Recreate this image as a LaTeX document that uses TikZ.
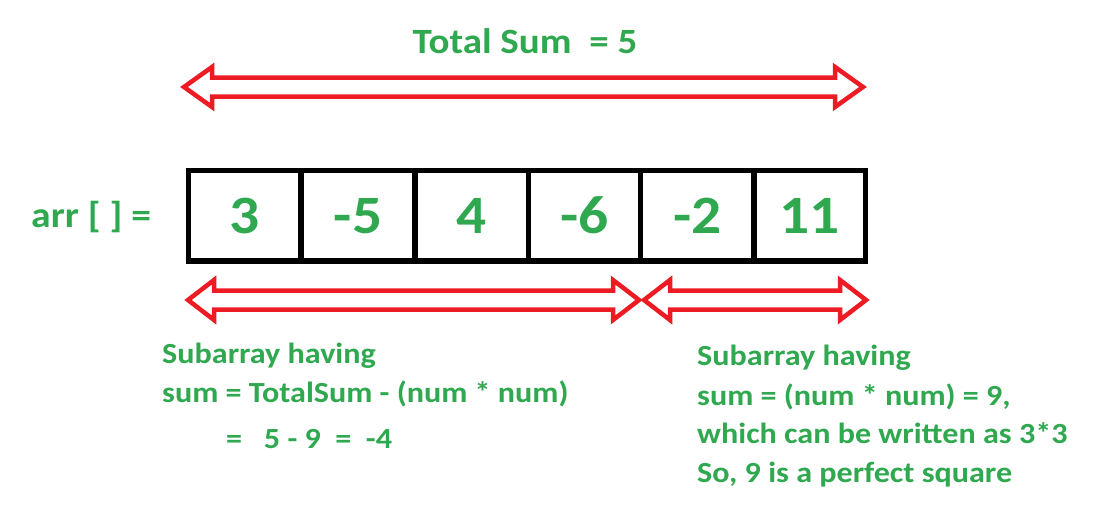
\documentclass[tikz,border=0pt]{standalone}
\usepackage{fontspec}
\setmainfont{Carlito}[FakeStretch=1.1]
\definecolor{ggreen}{RGB}{47,168,79}
\definecolor{ared}{RGB}{237,28,36}
\tikzset{
  lbl/.style={text=ggreen, font=\bfseries\fontsize{29.2}{35}\selectfont, inner sep=0pt, anchor=base west},
  ttl/.style={text=ggreen, font=\bfseries\fontsize{35.5}{42}\selectfont, inner sep=0pt, anchor=base},
  arrlbl/.style={text=ggreen, font=\bfseries\fontsize{36}{44}\selectfont, inner sep=0pt, anchor=base west},
  cell/.style={draw=black, line width=5.5pt, minimum height=90.5pt, inner sep=0pt, text=ggreen, font=\bfseries\fontsize{54}{60}\selectfont},
  dblarr/.style={draw=ared, fill=white, line width=4.5pt, line join=miter},
}
\newcommand{\dblarrow}[6]{% x1 x2 yc L h s
  \draw[dblarr] (#1,#3) -- ({#1+#4},{#3-#5}) -- ({#1+#4},{#3-#6}) -- ({#2-#4},{#3-#6}) -- ({#2-#4},{#3-#5}) -- (#2,#3)
    -- ({#2-#4},{#3+#5}) -- ({#2-#4},{#3+#6}) -- ({#1+#4},{#3+#6}) -- ({#1+#4},{#3+#5}) -- cycle;}
\begin{document}
\begin{tikzpicture}[x=1pt,y=-1pt]
\useasboundingbox (0,0) rectangle (1096,520);
\fill[white] (0,0) rectangle (1096,520);
% title
\node[ttl] (title) at (525,53) {Total Sum\ \ = 5};
% arrows
\dblarrow{184}{863}{87}{28}{20}{9.5}
\dblarrow{188}{639}{300}{26}{20}{9.5}
\dblarrow{644}{866}{300}{26}{20}{9.5}
% array label
\node[arrlbl] (arr) at (31,227) {arr [ ] =};
% cells
\node[cell, minimum width=112.5pt] (c1) at (244.75,215.75) {3};
\node[cell, minimum width=114pt] (c2) at (358,215.75) {-5};
\node[cell, minimum width=113.5pt] (c3) at (471.75,215.75) {4};
\node[cell, minimum width=112pt] (c4) at (584.5,215.75) {-6};
\node[cell, minimum width=113.5pt] (c5) at (697.25,215.75) {-2};
\node[cell, minimum width=111.5pt] (c6) at (809.75,215.75) {11};
% left text
\node[lbl] (l1) at (162,363) {Subarray having};
\node[lbl] (l2) at (162,402) {sum = TotalSum - (num * num)};
\node[lbl] (l3) at (226,448) {=\ \ \ 5 - 9\ \ =\ \ -4};
% right text
\node[lbl] (r1) at (697,365) {Subarray having};
\node[lbl] (r2) at (697,405) {sum = (num * num) = 9,};
\node[lbl] (r3) at (697,443) {which can be written as 3*3};
\node[lbl] (r4) at (697,482) {So, 9 is a perfect square};
\end{tikzpicture}
\end{document}
